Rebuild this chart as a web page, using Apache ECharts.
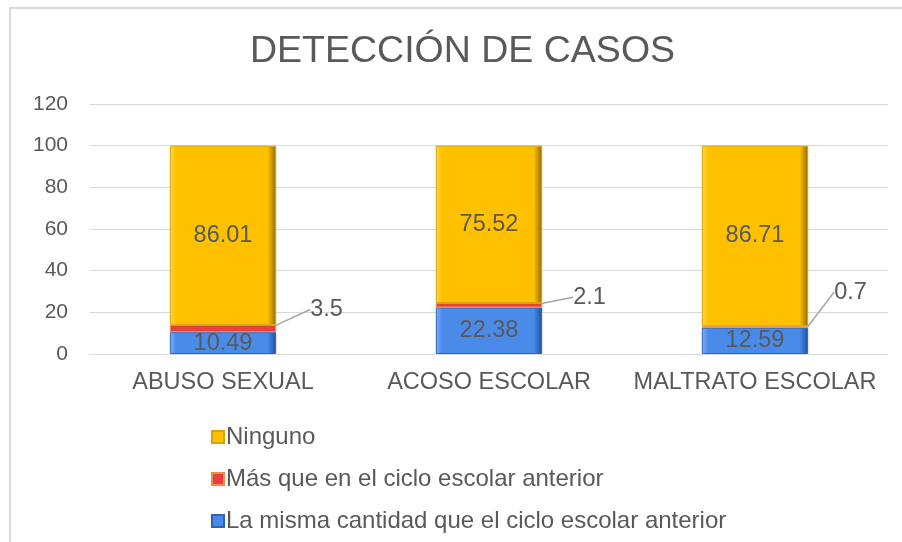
<!DOCTYPE html>
<html>
<head>
<meta charset="utf-8">
<script src="https://cdn.jsdelivr.net/npm/echarts@6/dist/echarts.min.js"></script>
<style>
  html, body { margin: 0; padding: 0; background: #fff; }
  #main { width: 902px; height: 542px; }
</style>
</head>
<body>
<div id="main"></div>
<script>
let categories = ['ABUSO SEXUAL', 'ACOSO ESCOLAR', 'MALTRATO ESCOLAR'];
let misma = [10.49, 22.38, 12.59];
let mas = [3.5, 2.1, 0.7];
let ninguno = [86.01, 75.52, 86.71];
let yTicks = [0, 20, 40, 60, 80, 100, 120];

// where the small red-segment labels sit (px from default spot)
let masLabelShift = [[29, -19], [26, -8], [21, -35]];

let fontFam = '"Liberation Sans", Arial, sans-serif';
let txt = '#595959';

function bevel(c1, c2, c3) {
    return {
        type: 'linear', x: 0, y: 0, x2: 1, y2: 0,
        colorStops: [
            { offset: 0, color: c2 },
            { offset: 0.06, color: c1 },
            { offset: 0.92, color: c1 },
            { offset: 1, color: c3 }
        ]
    };
}

let myChart = echarts.init(document.getElementById('main'));
let option = {
    backgroundColor: '#fff',
    textStyle: { fontFamily: fontFam },
    title: {
        text: 'DETECCIÓN DE CASOS',
        left: 245, top: 28,
        textStyle: { fontSize: 37.5, fontWeight: 'normal', color: txt, fontFamily: fontFam }
    },
    graphic: [{
        type: 'rect',
        shape: { x: 10, y: 8, width: 920, height: 560 },
        style: { fill: 'none', stroke: '#d9d9d9', lineWidth: 2 },
        silent: true, z: -1
    }],
    legend: {
        orient: 'vertical',
        left: 206, top: 420,
        itemGap: 18,
        itemWidth: 12, itemHeight: 12,
        icon: 'rect',
        data: ['Ninguno', 'Más que en el ciclo escolar anterior', 'La misma cantidad que el ciclo escolar anterior'],
        textStyle: { fontSize: 24, color: txt, fontFamily: fontFam, padding: [0, 0, 0, -3] }
    },
    grid: { left: 90, right: 14, top: 104, bottom: 188 },
    xAxis: {
        type: 'category',
        data: categories,
        axisLine: { show: true, lineStyle: { color: '#d9d9d9', width: 1 } },
        axisTick: { show: false },
        axisLabel: { fontSize: 23.5, color: txt, margin: 17, interval: 0, fontFamily: fontFam }
    },
    yAxis: {
        type: 'value',
        min: yTicks[0], max: yTicks[yTicks.length - 1], interval: 20,
        axisLine: { show: false },
        axisTick: { show: false },
        splitLine: { lineStyle: { color: '#d9d9d9', width: 1 } },
        axisLabel: { fontSize: 21, color: txt, margin: 22, fontFamily: fontFam }
    },
    series: [
        {
            name: 'La misma cantidad que el ciclo escolar anterior',
            type: 'bar', stack: 'a', barWidth: '40%',
            data: misma,
            itemStyle: { color: bevel('#4A8BEA', '#7FB0F5', '#1E4E9C'), borderColor: '#2F63B8', borderWidth: 1 },
            label: { show: true, position: 'inside', fontSize: 23.5, color: txt, fontFamily: fontFam }
        },
        {
            name: 'Más que en el ciclo escolar anterior',
            type: 'bar', stack: 'a',
            data: mas,
            itemStyle: { color: '#E8403A', borderColor: '#F08A50', borderWidth: 1 },
            label: { show: true, position: 'right', fontSize: 23.5, color: txt, fontFamily: fontFam },
            labelLayout: function (p) {
                let s = masLabelShift[p.dataIndex];
                return { dx: s[0], dy: s[1] };
            },
            labelLine: { show: true, lineStyle: { color: '#a6a6a6', width: 1.5 } }
        },
        {
            name: 'Ninguno',
            type: 'bar', stack: 'a',
            data: ninguno,
            itemStyle: { color: bevel('#FFC000', '#FFD84D', '#8C6A00'), borderColor: '#D9A400', borderWidth: 1 },
            label: { show: true, position: 'inside', fontSize: 23.5, color: txt, fontFamily: fontFam }
        }
    ]
};
myChart.setOption(option);
</script>
</body>
</html>
